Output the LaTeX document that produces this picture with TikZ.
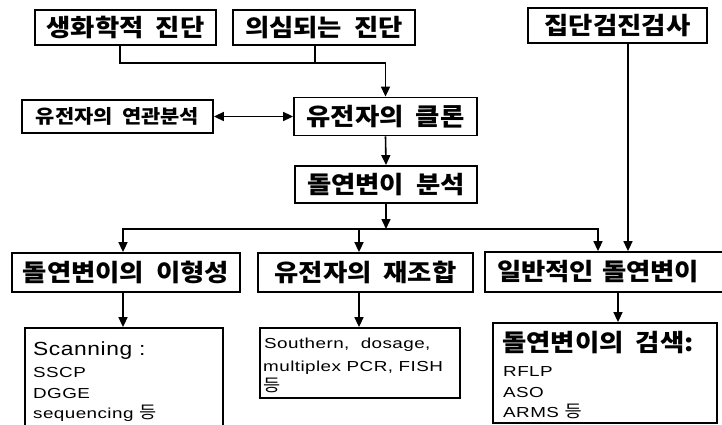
\documentclass[tikz,border=0pt]{standalone}
\usepackage{fontspec}
\setmainfont{Liberation Sans}
\newfontfamily\kr[FakeStretch=1.1,WordSpace=2]{Noto Sans CJK KR}
\newfontfamily\latw[FakeStretch=1.2,LetterSpace=3]{Liberation Sans}
\newfontfamily\latx[FakeStretch=1.3,LetterSpace=3]{Liberation Sans}
\newcommand{\deung}{{\kr\fontsize{17}{18}\selectfont 등}}
\usetikzlibrary{arrows.meta,calc}
\begin{document}
\begin{tikzpicture}[x=1pt,y=-1pt,
  box/.style={draw,line width=1.8pt,inner sep=0pt,font=\kr\bfseries\fontsize{24}{26}\selectfont},
  sbox/.style={box,font=\kr\bfseries\fontsize{19}{21}\selectfont},
  tip/.tip={Triangle[length=10pt,width=9pt]},
  arr/.style={line width=1.6pt,-tip},
  arrb/.style={line width=1.6pt,tip-tip},
  ln/.style={line width=1.6pt},
  big/.style={inner sep=0pt,font=\latw\fontsize{19}{22}\selectfont},
  small/.style={inner sep=0pt,font=\latx\fontsize{14.5}{16}\selectfont},
  mid/.style={inner sep=0pt,font=\latx\fontsize{14.5}{16}\selectfont},
  krt/.style={inner sep=0pt,font=\kr\bfseries\fontsize{24}{26}\selectfont}]
\useasboundingbox (0,0) rectangle (722,425);
\fill[white] (0,0) rectangle (722,425);
% top row
\node[box,minimum width=181pt,minimum height=35pt] (b1) at (125.5,27.5) {생화학적 진단};
\node[box,minimum width=182pt,minimum height=35pt] (b2) at (324,27.5) {의심되는 진단};
\node[box,minimum width=179pt,minimum height=35pt] (b3) at (617.5,25.5) {집단검진검사};
% second row
\node[sbox,minimum width=191pt,minimum height=33pt] (b5) at (117.5,116.5) {유전자의 연관분석};
\node[box,minimum width=183pt,minimum height=38pt] (b4) at (385.5,116.5) {유전자의 클론};
% third row
\node[box,minimum width=182pt,minimum height=37pt] (b6) at (386,184.5) {돌연변이 분석};
% fourth row
\node[box,minimum width=228pt,minimum height=39pt] (b7) at (126,272.5) {돌연변이의 이형성};
\node[box,minimum width=215pt,minimum height=39pt] (b9) at (365.5,272.5) {유전자의 재조합};
\node[box,minimum height=40pt,inner xsep=12pt,text width=221pt,align=left] (b8) at (607.5,272) {일반적인 돌연변이};
% bottom row
\node[box,minimum width=198pt,minimum height=112pt] (b10) at (124,384) {};
\node[box,minimum width=200pt,minimum height=70pt] (b11) at (360,363) {};
\node[box,minimum width=224pt,minimum height=100pt] (b12) at (605,373) {};
% bottom texts
\node[big,anchor=base west] (t10a) at (33,355) {Scanning :};
\node[small,anchor=base west] (t10b) at (33,377) {SSCP};
\node[small,anchor=base west] (t10c) at (33,398) {DGGE};
\node[small,anchor=base west] (t10d) at (33,418) {sequencing \deung};
\node[mid,anchor=base west] (t11a) at (264,348) {Southern,\ \ dosage,};
\node[mid,anchor=base west] (t11b) at (263,371) {multiplex PCR, FISH};
\node[mid,anchor=base west] (t11c) at (263,391) {\deung};
\node[krt,anchor=west] (t12a) at (502,343) {돌연변이의 검색:};
\node[small,anchor=base west] (t12b) at (503,376) {RFLP};
\node[small,anchor=base west] (t12c) at (503,397) {ASO};
\node[small,anchor=base west] (t12d) at (503,417) {ARMS \deung};
% connectors
\coordinate (j1) at (120,63);
\coordinate (j3) at (315,63);
\draw[arr] (b1.south -| j1) |- (b4.north |- j1) -- (b4.north);
\draw[ln] (b2.south -| j3) -- (j3);
\draw[arrb] (b5.east) -- (b4.west);
\draw[arr] (b4.south) -- (b6.north);
\coordinate (hl) at (123,229);
\coordinate (hm) at (359,229);
\coordinate (hr) at (598,229);
\draw[arr] (b6.south) -- (b6.south |- hl);
\draw[arrb] (hl |- b7.north) -- (hl) -- (hr) -- (hr |- b8.north);
\draw[arr] (hm) -- (hm |- b9.north);
\coordinate (v3) at (628,100);
\draw[arr] (b3.south -| v3) -- (b8.north -| v3);
\draw[arr] (b7.south -| hl) -- (b10.north -| hl);
\draw[arr] (b9.south -| hm) -- (b11.north -| hm);
\coordinate (v8) at (618,300);
\draw[arr] (b8.south -| v8) -- (b12.north -| v8);
\end{tikzpicture}
\end{document}
